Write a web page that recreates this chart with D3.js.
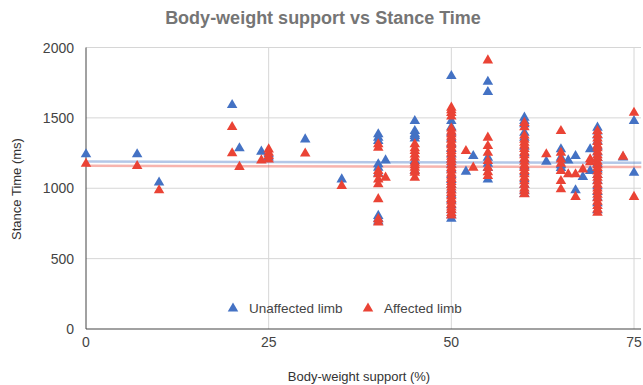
<!DOCTYPE html>
<html>
<head>
<meta charset="utf-8">
<script src="https://cdn.jsdelivr.net/npm/d3@7"></script>
<style>
  body { margin: 0; background: #fff; }
  text { font-family: Arial, "Liberation Sans", sans-serif; }
</style>
</head>
<body>
<svg id="chart"></svg>
<script>
// values
let xTicks = [0, 25, 50, 75];
let yTicks = [0, 500, 1000, 1500, 2000];

let unaffectedPoints = [
  [0, 1247], [7, 1247], [10, 1046], [20, 1597], [21, 1290], [24, 1266], [25, 1247], [25, 1225],
  [30, 1353], [35, 1069],
  [40, 1389], [40, 1365], [40, 1341], [40, 1176], [40, 1152], [40, 1110], [40, 809], [40, 790], [40, 770],
  [41, 1204],
  [45, 1483], [45, 1412], [45, 1390], [45, 1377], [45, 1360], [45, 1200], [45, 1130],
  [50, 1803], [50, 1483], [50, 1440], [50, 1400], [50, 1360], [50, 1320], [50, 1285], [50, 1245],
  [50, 1210], [50, 1175], [50, 1140], [50, 1100], [50, 1065], [50, 1030], [50, 995], [50, 960],
  [50, 920], [50, 885], [50, 850], [50, 815], [50, 790],
  [52, 1124], [53, 1235],
  [55, 1762], [55, 1689], [55, 1223], [55, 1180], [55, 1150], [55, 1069],
  [60, 1507], [60, 1483], [60, 1460], [60, 1400], [60, 1365], [60, 1300], [60, 1255], [60, 1210],
  [60, 1160], [60, 1120], [60, 1070], [60, 1030], [60, 990], [60, 965],
  [63, 1195],
  [65, 1283], [65, 1223], [65, 1170], [65, 1150],
  [66, 1204], [67, 1235], [67, 991], [68, 1086], [69, 1283], [69, 1128],
  [70, 1436], [70, 1410], [70, 1380], [70, 1340], [70, 1300], [70, 1260], [70, 1220], [70, 1180],
  [70, 1140], [70, 1100], [70, 1060], [70, 1020], [70, 980], [70, 940], [70, 900], [70, 850],
  [73.5, 1225], [75, 1483], [75, 1116]
];

let affectedPoints = [
  [0, 1180], [7, 1164], [10, 991], [20, 1441], [20, 1254], [21, 1157], [24, 1204],
  [25, 1282], [25, 1258], [25, 1235], [25, 1211], [30, 1252], [35, 1022],
  [40, 1318], [40, 1294], [40, 1128], [40, 1105], [40, 1069], [40, 1034], [40, 928], [40, 786], [40, 762],
  [41, 1081],
  [45, 1318], [45, 1290], [45, 1270], [45, 1245], [45, 1223], [45, 1188], [45, 1170], [45, 1152],
  [45, 1130], [45, 1116], [45, 1081],
  [50, 1578], [50, 1560], [50, 1540], [50, 1515], [50, 1430], [50, 1410], [50, 1390], [50, 1372],
  [50, 1350], [50, 1330], [50, 1312], [50, 1290], [50, 1270], [50, 1252], [50, 1230], [50, 1210],
  [50, 1192], [50, 1170], [50, 1150], [50, 1132], [50, 1110], [50, 1090], [50, 1072], [50, 1050],
  [50, 1030], [50, 1012], [50, 990], [50, 972], [50, 950], [50, 930], [50, 912], [50, 890],
  [50, 870], [50, 852], [50, 830], [50, 812],
  [52, 1270], [53, 1152],
  [55, 1914], [55, 1365], [55, 1306], [55, 1258], [55, 1200], [55, 1152], [55, 1120], [55, 1093],
  [60, 1470], [60, 1440], [60, 1380], [60, 1350], [60, 1330], [60, 1310], [60, 1285], [60, 1262],
  [60, 1240], [60, 1215], [60, 1195], [60, 1170], [60, 1150], [60, 1128], [60, 1105], [60, 1080],
  [60, 1055], [60, 1030], [60, 1005], [60, 985], [60, 963],
  [63, 1247],
  [65, 1412], [65, 1258], [65, 1210], [65, 1180], [65, 1128], [65, 1057], [65, 998],
  [66, 1105], [67, 1105], [67, 944], [68, 1140], [69, 1212], [69, 1190],
  [70, 1412], [70, 1385], [70, 1360], [70, 1335], [70, 1310], [70, 1290], [70, 1265], [70, 1240],
  [70, 1220], [70, 1195], [70, 1170], [70, 1150], [70, 1125], [70, 1100], [70, 1080], [70, 1055],
  [70, 1030], [70, 1005], [70, 985], [70, 960], [70, 935], [70, 910], [70, 880], [70, 855], [70, 832],
  [73.5, 1230], [75, 1542], [75, 944]
];

// trendline ends at x = 0 and x = 76
let trendX = [0, 76];
let unaffectedTrend = [1190, 1181];
let affectedTrend = [1159, 1151];

let series = [
  { name: 'Unaffected limb', points: unaffectedPoints, trend: unaffectedTrend, color: '#4472c4' },
  { name: 'Affected limb', points: affectedPoints, trend: affectedTrend, color: '#ea4335' }
];

let width = 643;
let height = 385;
let margin = { top: 47.5, left: 86, right: 2, bot: 56 };

let svg = d3.select('#chart')
  .attr('width', width)
  .attr('height', height);

let xScale = d3.scaleLinear()
  .domain([0, 75])
  .range([margin.left, 634]);
let yScale = d3.scaleLinear()
  .domain([0, 2000])
  .range([height - margin.bot, margin.top]);
let plotRight = width - margin.right;

// horizontal grid
svg.append('g')
  .selectAll('line')
  .data(yTicks.filter(d => d > 0))
  .join('line')
  .attr('x1', margin.left)
  .attr('x2', plotRight)
  .attr('y1', d => yScale(d))
  .attr('y2', d => yScale(d))
  .attr('stroke', '#d6d6d6')
  .attr('stroke-width', 1);

// vertical grid
svg.append('g')
  .selectAll('line')
  .data(xTicks.filter(d => d > 0))
  .join('line')
  .attr('x1', d => xScale(d))
  .attr('x2', d => xScale(d))
  .attr('y1', yScale(2000))
  .attr('y2', yScale(0))
  .attr('stroke', '#d6d6d6')
  .attr('stroke-width', 1);

// axes lines
svg.append('line')
  .attr('x1', margin.left).attr('x2', margin.left)
  .attr('y1', yScale(2000)).attr('y2', yScale(0))
  .attr('stroke', '#444').attr('stroke-width', 1);
svg.append('line')
  .attr('x1', margin.left).attr('x2', plotRight)
  .attr('y1', yScale(0)).attr('y2', yScale(0))
  .attr('stroke', '#444').attr('stroke-width', 1.2);

// tick labels
svg.append('g')
  .selectAll('text')
  .data(yTicks)
  .join('text')
  .attr('x', 74)
  .attr('y', d => yScale(d) + 5)
  .attr('text-anchor', 'end')
  .style('font-size', '14px')
  .style('fill', '#444')
  .text(d => d);
svg.append('g')
  .selectAll('text')
  .data(xTicks)
  .join('text')
  .attr('x', d => xScale(d))
  .attr('y', 347)
  .attr('text-anchor', 'middle')
  .style('font-size', '14px')
  .style('fill', '#444')
  .text(d => d);

// title and axis labels
svg.append('text')
  .attr('x', 323)
  .attr('y', 24)
  .attr('text-anchor', 'middle')
  .style('font-size', '18px')
  .style('font-weight', 'bold')
  .style('fill', '#757575')
  .text('Body-weight support vs Stance Time');
svg.append('text')
  .attr('transform', 'rotate(-90)')
  .attr('x', -189)
  .attr('y', 21)
  .attr('text-anchor', 'middle')
  .style('font-size', '13px')
  .style('fill', '#333')
  .text('Stance Time (ms)');
svg.append('text')
  .attr('x', 359)
  .attr('y', 381)
  .attr('text-anchor', 'middle')
  .style('font-size', '13px')
  .style('fill', '#333')
  .text('Body-weight support (%)');

// trendlines
for (let s of series) {
  svg.append('line')
    .attr('x1', xScale(trendX[0]))
    .attr('x2', xScale(trendX[1]))
    .attr('y1', yScale(s.trend[0]))
    .attr('y2', yScale(s.trend[1]))
    .attr('stroke', s.color)
    .attr('stroke-opacity', 0.4)
    .attr('stroke-width', 2.5);
}

// points
let tri = d3.symbol().type(d3.symbolTriangle).size(48);
for (let s of series) {
  svg.append('g')
    .selectAll('path')
    .data(s.points)
    .join('path')
    .attr('d', tri)
    .attr('transform', d => `translate(${xScale(d[0])},${yScale(d[1]) + 0.8})`)
    .attr('fill', s.color);
}

// legend
let legendX = [233, 368];
series.forEach((s, i) => {
  svg.append('path')
    .attr('d', tri)
    .attr('transform', `translate(${legendX[i]},${308.5})`)
    .attr('fill', s.color);
  svg.append('text')
    .attr('x', legendX[i] + 16)
    .attr('y', 313)
    .style('font-size', '13.5px')
    .style('fill', '#444')
    .text(s.name);
});
</script>
</body>
</html>
